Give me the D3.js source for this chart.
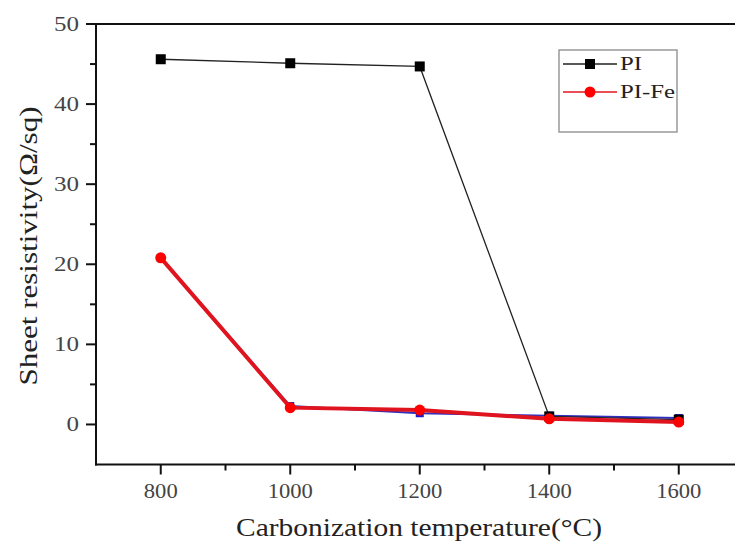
<!DOCTYPE html>
<html>
<head>
<meta charset="utf-8">
<script src="https://cdn.jsdelivr.net/npm/d3@7.9.0/dist/d3.min.js"></script>
<style>
  body { margin: 0; background: #fff; }
  text { font-family: "Liberation Serif", "DejaVu Serif", serif; }
</style>
</head>
<body>
<svg id="chart" width="735" height="544"></svg>
<script>
// Data
const temps = [800, 1000, 1200, 1400, 1600];
const piValues = [45.6, 45.1, 44.7, 1.0, 0.6];
const piFeValues = [20.8, 2.1, 1.8, 0.7, 0.3];
const hiddenValues = [20.8, 2.3, 1.4, 1.1, 0.8];
const xTicks = [800, 1000, 1200, 1400, 1600];
const yTicks = [0, 10, 20, 30, 40, 50];

const svg = d3.select("#chart");

// Scales (frame runs past the right edge of the picture)
const x = d3.scaleLinear().domain([700, 1700]).range([96, 743.5]);
const y = d3.scaleLinear().domain([-5, 50]).range([464.5, 24]);

// Frame top line
svg.append("line")
    .attr("x1", 96).attr("x2", 735)
    .attr("y1", y(50)).attr("y2", y(50))
    .attr("stroke", "#111").attr("stroke-width", 2);

// Y axis with minor ticks
const yAxis = svg.append("g").attr("transform", "translate(96,0)");
yAxis.append("line")
    .attr("y1", y(50) - 1).attr("y2", y(-5) + 1)
    .attr("stroke", "#111").attr("stroke-width", 2);
d3.range(0, 51, 5).forEach(v => {
    yAxis.append("line")
        .attr("x1", 0).attr("x2", v % 10 === 0 ? -10 : -6)
        .attr("y1", y(v)).attr("y2", y(v))
        .attr("stroke", "#111").attr("stroke-width", 2);
});
yAxis.selectAll(".yl").data(yTicks).join("text")
    .attr("class", "yl")
    .attr("x", -17).attr("y", d => y(d))
    .attr("dy", "0.35em")
    .attr("text-anchor", "end")
    .attr("font-size", 20)
    .attr("fill", "#444")
    .attr("textLength", d => String(d).length * 12.5)
    .attr("lengthAdjust", "spacingAndGlyphs")
    .text(d => d);

// X axis with minor ticks
const xAxis = svg.append("g").attr("transform", `translate(0,${y(-5)})`);
xAxis.append("line")
    .attr("x1", 95).attr("x2", 735)
    .attr("stroke", "#111").attr("stroke-width", 2);
d3.range(800, 1700, 100).forEach(v => {
    xAxis.append("line")
        .attr("x1", x(v)).attr("x2", x(v))
        .attr("y1", 0).attr("y2", v % 200 === 0 ? 10 : 6)
        .attr("stroke", "#111").attr("stroke-width", 2);
});
xAxis.selectAll(".xl").data(xTicks).join("text")
    .attr("class", "xl")
    .attr("x", d => x(d)).attr("y", 33)
    .attr("text-anchor", "middle")
    .attr("font-size", 20)
    .attr("fill", "#444")
    .attr("textLength", d => String(d).length * 11.3)
    .attr("lengthAdjust", "spacingAndGlyphs")
    .text(d => d);

// Axis titles
svg.append("text")
    .attr("x", 419).attr("y", 536)
    .attr("text-anchor", "middle")
    .attr("font-size", 25)
    .attr("fill", "#222")
    .attr("textLength", 366)
    .attr("lengthAdjust", "spacingAndGlyphs")
    .text("Carbonization temperature(\u00B0C)");
svg.append("text")
    .attr("transform", "translate(37,246) rotate(-90)")
    .attr("text-anchor", "middle")
    .attr("font-size", 25)
    .attr("fill", "#222")
    .attr("textLength", 279)
    .attr("lengthAdjust", "spacingAndGlyphs")
    .text("Sheet resistivity(\u03A9/sq)");

const line = d3.line().x((d, i) => x(temps[i])).y(d => y(d));

// Hidden blue series (mostly under the red line)
svg.append("path").datum(hiddenValues)
    .attr("d", line).attr("fill", "none")
    .attr("stroke", "#3030c0").attr("stroke-width", 2);
svg.selectAll(".blue").data(hiddenValues).join("rect")
    .attr("class", "blue")
    .attr("x", (d, i) => x(temps[i]) - 4).attr("y", d => y(d) - 4)
    .attr("width", 8).attr("height", 8)
    .attr("fill", "#1a1ac8");

// PI series
svg.append("path").datum(piValues)
    .attr("d", line).attr("fill", "none")
    .attr("stroke", "#222").attr("stroke-width", 1.3);
svg.selectAll(".pi").data(piValues).join("rect")
    .attr("class", "pi")
    .attr("x", (d, i) => x(temps[i]) - 5).attr("y", d => y(d) - 5)
    .attr("width", 10).attr("height", 10)
    .attr("fill", "#000");

// PI-Fe series
svg.append("path").datum(piFeValues)
    .attr("d", line).attr("fill", "none")
    .attr("stroke", "#e0141e").attr("stroke-width", 4);
svg.selectAll(".fe").data(piFeValues).join("circle")
    .attr("class", "fe")
    .attr("cx", (d, i) => x(temps[i])).attr("cy", d => y(d))
    .attr("r", 5.5)
    .attr("fill", "#f00");

// Legend
const legend = svg.append("g");
legend.append("rect")
    .attr("x", 559).attr("y", 50).attr("width", 118).attr("height", 82)
    .attr("fill", "#fff").attr("stroke", "#999").attr("stroke-width", 1.5);
legend.append("line").attr("x1", 563).attr("x2", 617).attr("y1", 64).attr("y2", 64)
    .attr("stroke", "#222").attr("stroke-width", 1.3);
legend.append("rect").attr("x", 585).attr("y", 59).attr("width", 10).attr("height", 10).attr("fill", "#000");
legend.append("text").attr("x", 620).attr("y", 64).attr("dy", "0.35em")
    .attr("font-size", 18).attr("fill", "#222")
    .attr("textLength", 22).attr("lengthAdjust", "spacingAndGlyphs")
    .text("PI");
legend.append("line").attr("x1", 563).attr("x2", 617).attr("y1", 92).attr("y2", 92)
    .attr("stroke", "#e0141e").attr("stroke-width", 1.5);
legend.append("circle").attr("cx", 590).attr("cy", 92).attr("r", 5.5).attr("fill", "#f00");
legend.append("text").attr("x", 620).attr("y", 92).attr("dy", "0.35em")
    .attr("font-size", 18).attr("fill", "#222")
    .attr("textLength", 55).attr("lengthAdjust", "spacingAndGlyphs")
    .text("PI-Fe");
</script>
</body>
</html>
